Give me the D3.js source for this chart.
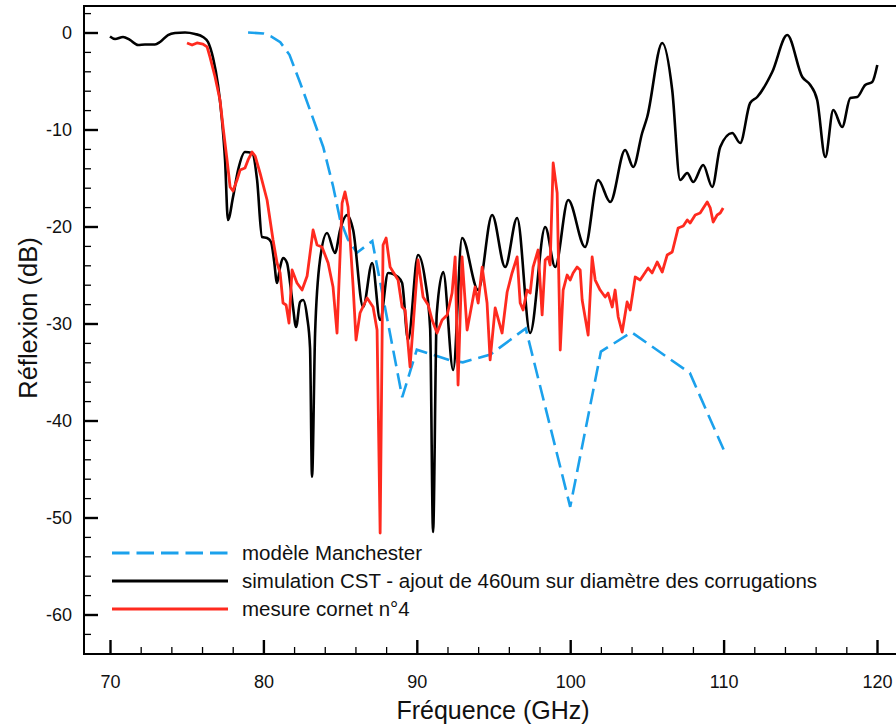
<!DOCTYPE html>
<html>
<head>
<meta charset="utf-8">
<script src="https://cdn.jsdelivr.net/npm/d3@7"></script>
<style>
  html, body { margin: 0; padding: 0; background: #fff; }
  svg { display: block; font-family: "Liberation Sans", Arial, Helvetica, sans-serif; }
</style>
</head>
<body>
<svg id="chart" width="896" height="725"></svg>
<script>
// ---------- DATA ----------
const xMajorTicks = [70, 80, 90, 100, 110, 120];
const yMajorTicks = [0, -10, -20, -30, -40, -50, -60];
const xTitle = "Fréquence (GHz)";
const yTitle = "Réflexion (dB)";
const seriesNames = ["modèle Manchester", "simulation CST - ajout de 460um sur diamètre des corrugations", "mesure cornet n°4"];

// modèle Manchester : [GHz, dB]
const manchester = [
  [79.0, 0.0], [80.0, -0.1], [80.5, -0.4], [81.1, -1.0], [81.7, -2.3], [82.4, -5.2],
  [83.2, -8.7], [83.9, -11.8], [84.55, -15.9], [85.0, -19.3], [85.5, -21.3], [86.1, -22.7],
  [87.1, -21.5], [89.05, -37.6], [90.0, -32.7], [92.2, -33.8], [93.0, -34.0], [94.8, -33.2],
  [97.1, -30.5], [100.0, -48.9], [102.0, -32.9], [104.0, -30.9], [107.8, -35.1], [110.0, -43.0]
];

// simulation CST : [GHz, dB]
const simulation = [
  [70.00, -0.41], [70.33, -0.67], [70.85, -0.46], [71.30, -0.77], [71.83, -1.29], [72.28, -1.24],
  [72.93, -1.24], [73.26, -0.98], [73.78, -0.26], [74.24, -0.05], [74.89, 0.0], [75.54, -0.15],
  [76.06, -0.46], [76.39, -0.98], [76.72, -2.63], [77.04, -5.41], [77.30, -9.02], [77.50, -13.14],
  [77.69, -19.33], [78.02, -16.96], [78.35, -14.18], [78.80, -12.32], [79.26, -12.42], [79.59, -15.21],
  [79.91, -21.08], [80.24, -21.19], [80.50, -21.60], [80.69, -23.45], [80.89, -25.82], [81.09, -24.18],
  [81.28, -23.25], [81.54, -23.76], [81.74, -25.82], [81.93, -28.30], [82.13, -30.36], [82.39, -27.78],
  [82.59, -27.58], [82.85, -29.33], [83.04, -32.5], [83.17, -45.8], [83.37, -31.0], [83.69, -23.45],
  [84.15, -20.67], [84.67, -22.73], [85.00, -20.36], [85.45, -18.81], [85.85, -20.36], [86.50, -28.30],
  [87.09, -23.76], [87.61, -29.64], [88.13, -24.79], [88.78, -25.21], [89.04, -25.82], [89.43, -31.70],
  [90.08, -22.94], [90.54, -25.52], [90.87, -30.5], [91.06, -51.5], [91.30, -29.0], [91.72, -24.69],
  [92.37, -34.79], [92.95, -21.19], [94.00, -26.55], [94.91, -18.81], [95.76, -24.18], [96.54, -19.12],
  [97.39, -30.98], [98.37, -20.05], [99.02, -24.18], [99.87, -17.27], [100.97, -22.11], [101.82, -15.21],
  [102.61, -17.47], [103.58, -12.11], [104.11, -13.87], [104.69, -10.36], [105.02, -8.71], [106.00, -1.08],
  [106.65, -5.93], [107.17, -15.21], [107.63, -14.48], [108.02, -15.41], [108.67, -13.66], [109.26, -15.93],
  [109.78, -11.80], [110.56, -10.36], [111.08, -11.39], [111.73, -7.27], [112.19, -6.65], [113.17, -4.07],
  [114.15, -0.26], [115.13, -4.59], [115.65, -5.41], [116.10, -6.96], [116.63, -12.84], [117.15, -7.99],
  [117.73, -9.74], [118.26, -6.75], [118.71, -6.65], [119.23, -5.41], [119.69, -5.10], [120.02, -3.35]
];

// mesure cornet n°4 : [GHz, dB]
const mesure = [
  [75.02, -1.08], [75.35, -1.29], [75.67, -1.08], [76.06, -1.19], [76.33, -1.49], [76.52, -2.53],
  [76.85, -4.59], [77.17, -6.96], [77.37, -9.74], [77.63, -13.14], [77.83, -15.93], [78.02, -16.34],
  [78.28, -15.21], [78.48, -14.18], [78.80, -13.97], [79.00, -13.14], [79.26, -12.32], [79.46, -12.73],
  [79.78, -14.48], [80.24, -17.27], [80.63, -21.39], [80.89, -23.76], [81.09, -24.79], [81.28, -27.89],
  [81.48, -28.09], [81.67, -29.95], [81.87, -24.48], [82.19, -25.82], [82.52, -26.55], [82.85, -25.10],
  [83.24, -20.36], [83.50, -21.91], [83.82, -22.11], [84.22, -23.76], [84.54, -26.24], [84.80, -30.98],
  [85.13, -17.58], [85.32, -16.44], [85.52, -17.99], [85.85, -26.24], [86.04, -31.70], [86.30, -28.92],
  [86.76, -27.37], [87.15, -28.30], [87.41, -30.67], [87.61, -51.6], [87.80, -21.91], [88.00, -21.19],
  [88.26, -24.18], [88.58, -25.00], [88.78, -25.52], [89.04, -28.30], [89.24, -28.61], [89.56, -34.48],
  [90.08, -23.45], [90.41, -27.27], [90.74, -28.09], [91.00, -29.64], [91.32, -30.98], [91.65, -29.64],
  [91.98, -29.12], [92.30, -26.86], [92.50, -23.14], [92.69, -36.34], [92.95, -23.14], [93.28, -30.67],
  [93.80, -26.24], [94.00, -27.89], [94.26, -24.18], [94.58, -27.89], [94.78, -33.76], [95.11, -28.40],
  [95.56, -30.98], [95.89, -26.75], [96.21, -24.79], [96.54, -23.14], [96.74, -27.89], [96.93, -28.61],
  [97.19, -26.55], [97.39, -26.86], [97.58, -24.18], [97.91, -22.42], [98.17, -29.12], [98.37, -23.45],
  [98.56, -23.14], [98.69, -23.97], [98.89, -13.45], [99.15, -16.55], [99.35, -32.73], [99.54, -26.55],
  [99.80, -25.00], [100.00, -25.52], [100.19, -24.79], [100.45, -24.18], [100.65, -24.48], [100.78, -27.58],
  [101.17, -31.19], [101.43, -23.14], [101.63, -25.52], [101.95, -26.55], [102.28, -27.27], [102.47, -26.86],
  [102.74, -28.30], [102.93, -26.55], [103.13, -29.33], [103.39, -30.88], [103.71, -27.78], [103.91, -28.61],
  [104.24, -25.21], [104.56, -25.52], [105.08, -24.28], [105.34, -24.79], [105.67, -23.66], [106.00, -24.69],
  [106.32, -22.94], [106.65, -22.63], [107.04, -20.15], [107.37, -19.95], [107.63, -19.33], [107.82, -19.64],
  [108.15, -18.81], [108.47, -18.61], [108.93, -17.47], [109.13, -18.09], [109.32, -19.54], [109.58, -18.81],
  [109.78, -18.61], [109.97, -18.09]
];

// ---------- LAYOUT ----------
const frame = { left: 84, top: 6, right: 902, bottom: 654 };
const x = d3.scaleLinear().domain([70, 120]).range([110, 877]);
const y = d3.scaleLinear().domain([0, -60]).range([32.5, 614.5]);

const svg = d3.select("#chart");

const xMinor = d3.range(70, 121, 2).filter(v => !xMajorTicks.includes(v));
const yMinor = d3.range(2, -63, -2).filter(v => !yMajorTicks.includes(v));

// axes (ticks inside)
const gxMinor = svg.append("g").attr("transform", `translate(0,${frame.bottom})`)
  .call(d3.axisBottom(x).tickValues(xMinor).tickSize(-7).tickFormat(""));
const gx = svg.append("g").attr("transform", `translate(0,${frame.bottom})`)
  .call(d3.axisBottom(x).tickValues(xMajorTicks).tickSize(-14).tickPadding(21).tickFormat(d3.format("d")));
const gyMinor = svg.append("g").attr("transform", `translate(${frame.left},0)`)
  .call(d3.axisLeft(y).tickValues(yMinor).tickSize(-7).tickFormat(""));
const gy = svg.append("g").attr("transform", `translate(${frame.left},0)`)
  .call(d3.axisLeft(y).tickValues(yMajorTicks).tickSize(-14).tickPadding(12).tickFormat(d => d3.format("d")(d).replace("−", "-")));

[gx, gy, gxMinor, gyMinor].forEach(g => g.select(".domain").remove());
[gxMinor, gyMinor].forEach(g => g.selectAll(".tick line").attr("stroke", "#000").attr("stroke-width", 1.3));
[gx, gy].forEach(g => {
  g.selectAll(".tick line").attr("stroke", "#000").attr("stroke-width", 2.4);
  g.selectAll(".tick text").attr("fill", "#111").style("font-size", "18px");
});

// frame
svg.append("rect")
  .attr("x", frame.left).attr("y", frame.top)
  .attr("width", frame.right - frame.left).attr("height", frame.bottom - frame.top)
  .attr("fill", "none").attr("stroke", "#000").attr("stroke-width", 2);

// lines
const lineLin = d3.line().x(d => x(d[0])).y(d => y(d[1]));
const lineSmooth = d3.line().x(d => x(d[0])).y(d => y(d[1])).curve(d3.curveMonotoneX);

const blue = "#1ba1ec", red = "#ff2a1f", black = "#000";

svg.append("path").datum(manchester).attr("d", lineLin)
  .attr("fill", "none").attr("stroke", blue).attr("stroke-width", 2.6)
  .attr("stroke-dasharray", "16,7");
svg.append("path").datum(simulation).attr("d", lineSmooth)
  .attr("fill", "none").attr("stroke", black).attr("stroke-width", 2.6)
  .attr("stroke-linejoin", "round");
svg.append("path").datum(mesure).attr("d", lineLin)
  .attr("fill", "none").attr("stroke", red).attr("stroke-width", 2.8)
  .attr("stroke-linejoin", "round");

// legend
const legendY = [553, 581, 609];
const legendColors = [blue, black, red];
seriesNames.forEach((name, i) => {
  const ln = svg.append("line")
    .attr("x1", 112).attr("x2", 228).attr("y1", legendY[i]).attr("y2", legendY[i])
    .attr("stroke", legendColors[i]).attr("stroke-width", 2.8);
  if (i === 0) ln.attr("stroke-dasharray", "17.5,7");
  svg.append("text").attr("x", 242).attr("y", legendY[i]).attr("dy", "0.35em")
    .attr("fill", "#111").style("font-size", "20.5px").text(name);
});

// titles
svg.append("text").attr("x", 493).attr("y", 719).attr("text-anchor", "middle")
  .attr("fill", "#111").style("font-size", "25px").text(xTitle);
svg.append("text").attr("transform", "translate(37,318) rotate(-90)").attr("text-anchor", "middle")
  .attr("fill", "#111").style("font-size", "25.5px").text(yTitle);
</script>
</body>
</html>
